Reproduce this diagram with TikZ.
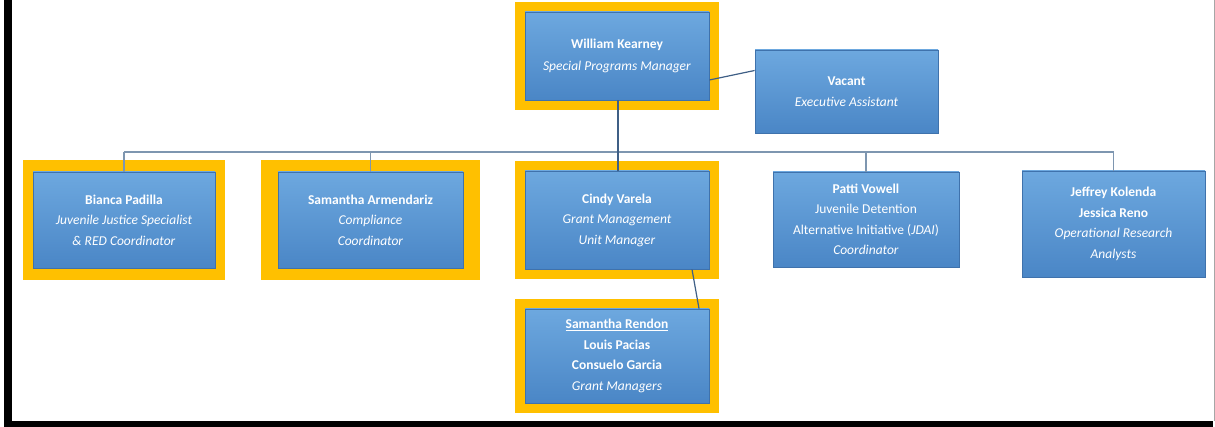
\documentclass[tikz,border=0pt]{standalone}
\usepackage{fontspec}
\setmainfont{Carlito}
\usetikzlibrary{fit,backgrounds}
\definecolor{gold}{HTML}{FFC000}
\definecolor{boxtop}{HTML}{6DA8DF}
\definecolor{boxbot}{HTML}{4A86C6}
\definecolor{boxedge}{HTML}{3F72AC}
\definecolor{trunk}{HTML}{3F5F86}
\definecolor{bus}{HTML}{7E96B0}
\begin{document}
\begin{tikzpicture}[x=1pt, y=-1pt,
            person/.style={rectangle, top color=boxtop, bottom color=boxbot,
                draw=boxedge, line width=0.8pt, text=white, align=center,
                font=\fontsize{13.5}{20.5}\selectfont, inner sep=0pt},
            frame/.style={fill=gold, inner sep=10pt}]
            \pgfmathsetmacro{\w}{184}

            \useasboundingbox (0, 0) rectangle (1215, 427);
            \fill[black] (4, 0) rectangle (12, 427);
            \fill[black] (4, 421) rectangle (1213, 427);
            \fill[black!35] (1213.5, 0) rectangle (1215, 421);

            \node[person, minimum width=\w, minimum height=88] (boss) at (617, 56)
                {\textbf{William Kearney}\\[2pt] \textit{Special Programs Manager}};
            \node[person, minimum width=183, minimum height=83] (assist) at (846.5, 91.5)
                {\textbf{Vacant}\\ \textit{Executive Assistant}};

            \node[person, minimum width=182, minimum height=96] (bianca) at (124, 220)
                {\textbf{Bianca Padilla}\\ \textit{Juvenile Justice Specialist}\\ \textit{\& RED Coordinator}};
            \node[person, minimum width=185, minimum height=96] (armendariz) at (370.5, 220)
                {\textbf{Samantha Armendariz}\\ \textit{Compliance}\\ \textit{Coordinator}};
            \node[person, minimum width=\w, minimum height=98] (cindy) at (617, 220)
                {\textbf{Cindy Varela}\\ \textit{Grant Management}\\ \textit{Unit Manager}};
            \node[person, minimum width=186, minimum height=95] (patti) at (866, 219.5)
                {\textbf{Patti Vowell}\\ Juvenile Detention\\ Alternative Initiative (\textit{JDAI})\\ \textit{Coordinator}};
            \node[person, minimum width=183, minimum height=106] (jeffrey) at (1113.5, 224)
                {\textbf{Jeffrey Kolenda}\\ \textbf{Jessica Reno}\\ \textit{Operational Research}\\ \textit{Analysts}};

            \node[person, minimum width=\w, minimum height=94] (rendon) at (617, 356)
                {\textbf{\underline{Samantha Rendon}}\\ \textbf{Louis Pacias}\\ \textbf{Consuelo Garcia}\\ \textit{Grant Managers}};

            \begin{scope}[on background layer]
                \node[frame, fit=(boss)] (bossframe) {};
                \node[frame, fit=(bianca), inner ysep=11.5pt] (biancaframe) {};
                \node[frame, fit=(armendariz), inner xsep=17pt, inner ysep=11.5pt] (armendarizframe) {};
                \node[frame, fit=(cindy)] (cindyframe) {};
                \node[frame, fit=(rendon)] (rendonframe) {};
            \end{scope}

            \coordinate (busleft) at (124, 152);
            \coordinate (busright) at (1113.5, 152);
            \draw[bus, line width=1.3pt] (busleft) -- (busright);
            \draw[bus, line width=1.3pt] (busleft) -- (bianca.north);
            \draw[bus, line width=1.3pt] (armendariz.north |- busleft) -- (armendariz.north);
            \draw[bus, line width=1.3pt] (patti.north |- busleft) -- (patti.north);
            \draw[bus, line width=1.3pt] (busright) -- (jeffrey.north);
            \draw[trunk, line width=2.6pt] ([xshift=1pt]boss.south) -- ([xshift=1pt]cindy.north);
            \draw[trunk, line width=1.2pt] ([yshift=-24pt]boss.east) -- ([yshift=21pt]assist.west);
            \draw[trunk, line width=1.2pt] ([xshift=75pt]cindy.south) -- ([xshift=82pt]rendon.north);
        \end{tikzpicture}
\end{document}
